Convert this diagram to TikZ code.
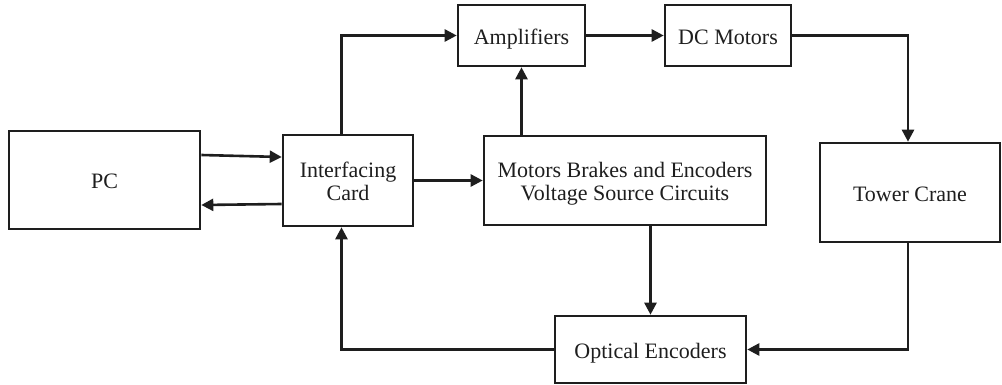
\documentclass[tikz,border=0pt]{standalone}
\usepackage{fontspec}
\setmainfont{Liberation Serif}
\usetikzlibrary{arrows.meta,calc}
\definecolor{ink}{RGB}{30,30,30}
\newcommand{\boxtxt}[1]{\raisebox{-9pt}[0pt][0pt]{\begin{tabular}{@{}c@{}}#1\end{tabular}}}
\begin{document}
\begin{tikzpicture}[x=1pt,y=-1pt,
  blk/.style={draw=ink,line width=2.6pt,rectangle,inner sep=0pt,
    font=\fontsize{22}{23.5}\selectfont,text=ink},
  conn/.style={draw=ink,line width=2.6pt,-{Triangle[length=12pt,width=12pt]}}]
\useasboundingbox (0,0) rectangle (1002,385);
\node[blk,minimum width=191pt,minimum height=98pt] (pc) at (104.5,180) {\boxtxt{PC}};
\node[blk,minimum width=130pt,minimum height=91pt] (ic) at (348,180.5) {\boxtxt{Interfacing\\Card}};
\node[blk,minimum width=127pt,minimum height=61pt] (amp) at (521.5,35.5) {\boxtxt{Amplifiers}};
\node[blk,minimum width=126pt,minimum height=61pt] (dc) at (728,35.5) {\boxtxt{DC Motors}};
\node[blk,minimum width=282pt,minimum height=89pt] (mb) at (625,180.5) {\boxtxt{Motors Brakes and Encoders\\Voltage Source Circuits}};
\node[blk,minimum width=180pt,minimum height=99pt] (tc) at (910,192.5) {\boxtxt{Tower Crane}};
\node[blk,minimum width=191pt,minimum height=67pt] (oe) at (650.5,349.5) {\boxtxt{Optical Encoders}};
% PC <-> Interfacing card
\draw[conn] ([yshift=25pt]pc.east) -- ([yshift=23.5pt]ic.west);
\draw[conn] ([yshift=-23.5pt]ic.west) -- ([yshift=-25pt]pc.east);
% Interfacing card -> Amplifiers
\draw[conn] ([xshift=-6.5pt]ic.north) |- (amp.west);
% Amplifiers -> DC Motors
\draw[conn] (amp.east) -- (dc.west);
% DC Motors -> Tower Crane
\draw[conn] (dc.east) -| ([xshift=-2pt]tc.north);
% Motors brakes -> Amplifiers
\draw[conn] (amp.south |- mb.north) -- (amp.south);
% Interfacing card -> Motors brakes
\draw[conn] (ic.east) -- (mb.west);
% Motors brakes -> Optical encoders
\draw[conn] (oe.north |- mb.south) -- (oe.north);
% Tower crane -> Optical encoders
\draw[conn] ([xshift=-2pt]tc.south) |- (oe.east);
% Optical encoders -> Interfacing card
\draw[conn] (oe.west) -| ([xshift=-6.5pt]ic.south);
\end{tikzpicture}
\end{document}
